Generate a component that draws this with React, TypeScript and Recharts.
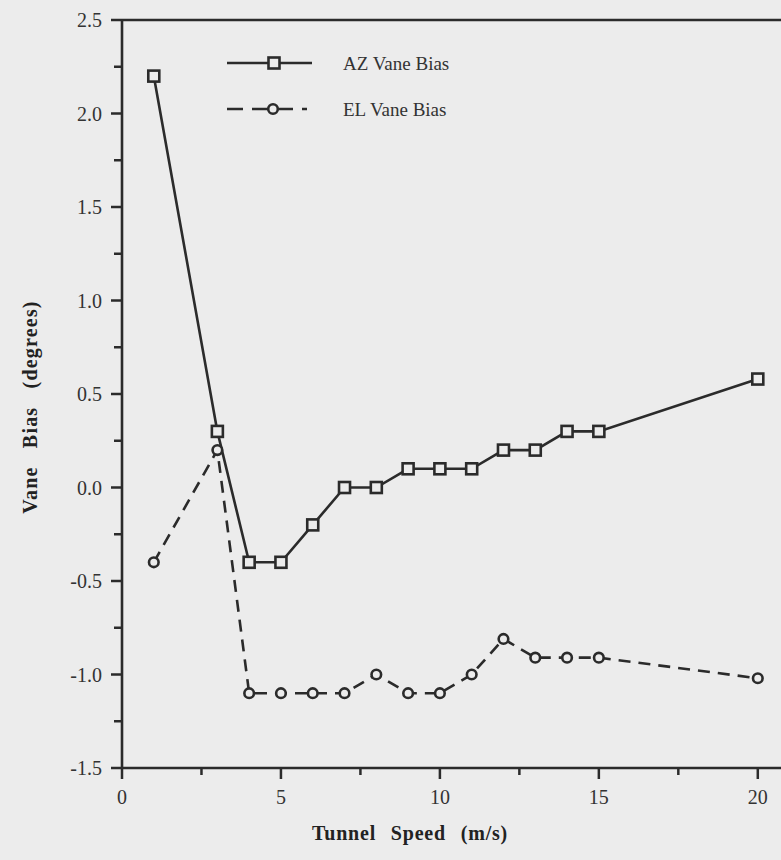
import React from "react";
import {
  Legend,
  Line,
  LineChart,
  ReferenceLine,
  XAxis,
  YAxis,
} from "recharts";

const speeds = [1, 3, 4, 5, 6, 7, 8, 9, 10, 11, 12, 13, 14, 15, 20];
const azBias = [2.2, 0.3, -0.4, -0.4, -0.2, 0, 0, 0.1, 0.1, 0.1, 0.2, 0.2, 0.3, 0.3, 0.58];
const elBias = [-0.4, 0.2, -1.1, -1.1, -1.1, -1.1, -1.0, -1.1, -1.1, -1.0, -0.81, -0.91, -0.91, -0.91, -1.02];

const xTicks = [0, 2.5, 5, 7.5, 10, 12.5, 15, 17.5, 20];
const yTicks = [-1.5, -1.25, -1, -0.75, -0.5, -0.25, 0, 0.25, 0.5, 0.75, 1, 1.25, 1.5, 1.75, 2, 2.25, 2.5];

const data = speeds.map((s, i) => ({ speed: s, az: azBias[i], el: elBias[i] }));

const INK = "#2b2b2b";
const PAPER = "#ececec";
const FONT = "'Liberation Serif', 'Times New Roman', serif";

const isMajor = (v: number, step: number) => Math.abs(v / step - Math.round(v / step)) < 1e-6;

const XTick = (props: any) => {
  const { x, y, payload } = props;
  const major = isMajor(payload.value, 5);
  return (
    <g>
      <line x1={x} x2={x} y1={y} y2={y + (major ? 11 : 7)} stroke={INK} strokeWidth={2.5} />
      {major && (
        <text x={x} y={y + 36} textAnchor="middle" fontSize={20} fill="#333" fontFamily={FONT}>
          {payload.value}
        </text>
      )}
    </g>
  );
};

const YTick = (props: any) => {
  const { x, y, payload } = props;
  const major = isMajor(payload.value, 0.5);
  return (
    <g>
      <line x1={x} x2={x - (major ? 11 : 8)} y1={y} y2={y} stroke={INK} strokeWidth={2.5} />
      {major && (
        <text x={x - 20} y={y + 7} textAnchor="end" fontSize={20} fill="#333" fontFamily={FONT}>
          {payload.value.toFixed(1)}
        </text>
      )}
    </g>
  );
};

const SquareDot = (props: any) => {
  const { cx, cy, index } = props;
  return <rect key={"sq" + index} x={cx - 5.5} y={cy - 5.5} width={11} height={11} fill={PAPER} stroke={INK} strokeWidth={2.6} />;
};

const CircleDot = (props: any) => {
  const { cx, cy, index } = props;
  return <circle key={"ci" + index} cx={cx} cy={cy} r={4.8} fill={PAPER} stroke={INK} strokeWidth={2.6} />;
};

const XTitle = (props: any) => {
  const { viewBox } = props;
  return (
    <text
      x={viewBox.x + 288}
      y={840}
      textAnchor="middle"
      fontSize={20}
      fontWeight="bold"
      fill="#222"
      fontFamily={FONT}
      style={{ wordSpacing: 9, letterSpacing: 0.8 }}
    >
      Tunnel Speed (m/s)
    </text>
  );
};

const YTitle = () => (
  <text
    x={0}
    y={0}
    transform="translate(37 407) rotate(-90)"
    textAnchor="middle"
    fontSize={20}
    fontWeight="bold"
    fill="#222"
    fontFamily={FONT}
    style={{ wordSpacing: 12, letterSpacing: 1.2 }}
  >
    Vane Bias (degrees)
  </text>
);

const LegendBox = () => (
  <svg width={360} height={80} style={{ overflow: "visible" }}>
    <line x1={0} x2={85} y1={18} y2={18} stroke={INK} strokeWidth={2.6} />
    <rect x={41.5} y={12.5} width={11} height={11} fill={PAPER} stroke={INK} strokeWidth={2.6} />
    <text x={116} y={25} fontSize={19} fill="#333" fontFamily={FONT}>AZ Vane Bias</text>
    <line x1={0} x2={80} y1={64} y2={64} stroke={INK} strokeWidth={2.6} strokeDasharray="16 9" />
    <circle cx={46} cy={64} r={4.8} fill={PAPER} stroke={INK} strokeWidth={2.6} />
    <text x={116} y={71} fontSize={19} fill="#333" fontFamily={FONT}>EL Vane Bias</text>
  </svg>
);

export default function App() {
  return (
    <div style={{ position: "absolute", left: 0, top: 0, width: 781, height: 860, background: PAPER, overflow: "hidden" }}>
      <LineChart width={781} height={860} data={data} margin={{ top: 20, right: 0, bottom: 0, left: 0 }}>
        <XAxis
          dataKey="speed"
          type="number"
          domain={[0, 20.73]}
          allowDataOverflow
          ticks={xTicks}
          interval={0}
          tickSize={0}
          tickMargin={0}
          tickLine={false}
          tick={<XTick />}
          height={92}
          axisLine={{ stroke: INK, strokeWidth: 2.6 }}
          label={<XTitle />}
        />
        <YAxis
          type="number"
          domain={[-1.5, 2.5]}
          ticks={yTicks}
          interval={0}
          tickSize={0}
          tickMargin={0}
          tickLine={false}
          tick={<YTick />}
          width={122}
          axisLine={{ stroke: INK, strokeWidth: 2.6 }}
          label={<YTitle />}
        />
        <ReferenceLine y={2.5} stroke={INK} strokeWidth={2.6} />
        <Legend
          layout="vertical"
          align="center"
          verticalAlign="middle"
          content={() => <LegendBox />}
          wrapperStyle={{ left: 227, top: 45, width: 360, height: 80 }}
        />
        <Line
          dataKey="el"
          stroke={INK}
          strokeWidth={2.6}
          strokeDasharray="12 8"
          dot={CircleDot}
          activeDot={false}
          isAnimationActive={false}
        />
        <Line
          dataKey="az"
          stroke={INK}
          strokeWidth={2.6}
          dot={SquareDot}
          activeDot={false}
          isAnimationActive={false}
        />
      </LineChart>
    </div>
  );
}
